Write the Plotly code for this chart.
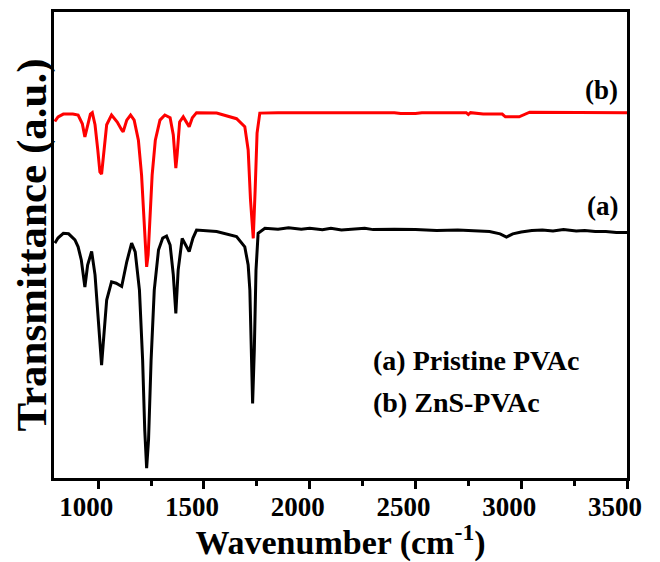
import plotly.graph_objects as go

wn_a = [795, 810, 835, 860, 890, 905, 920, 937, 950, 969, 985, 1000, 1010, 1016, 1025, 1040,
        1063, 1085, 1111, 1135, 1158, 1175, 1195, 1210, 1220, 1229, 1238, 1250, 1265, 1285,
        1305, 1323, 1340, 1355, 1367, 1378, 1397, 1415, 1430, 1448, 1465, 1560, 1654, 1693,
        1709, 1717, 1724, 1730, 1738, 1746, 1756, 1788, 1850, 1900, 1960, 2000, 2060, 2100,
        2150, 2200, 2260, 2300, 2400, 2500, 2600, 2700, 2780, 2850, 2900, 2930, 2960, 3000,
        3050, 3100, 3150, 3200, 3260, 3300, 3350, 3400, 3450, 3500]
t_a = [50.4, 51.5, 52.5, 52.4, 51.1, 49.6, 46.8, 41.0, 45.7, 48.6, 43.6, 33.9, 26.4, 24.2, 29.6, 38.2,
       42.1, 41.8, 41.1, 46.4, 50.4, 48.5, 40.3, 25.3, 10.3, 2.1, 8.2, 25.3, 40.3, 48.9,
       51.5, 51.9, 50.0, 43.6, 35.3, 44.6, 51.4, 50.0, 48.6, 51.5, 53.2, 52.9, 51.8, 49.6,
       45.7, 40.3, 25.3, 16.0, 27.5, 44.6, 52.5, 53.6, 53.4, 53.7, 53.4, 53.6, 53.3, 53.6,
       53.2, 53.4, 53.6, 53.3, 53.4, 53.3, 53.1, 53.2, 53.0, 52.9, 52.4, 51.7, 52.4, 52.8,
       53.1, 53.2, 53.0, 53.3, 53.0, 53.1, 52.9, 52.9, 52.7, 52.7]

wn_b = [795, 810, 835, 880, 905, 925, 937, 950, 963, 972, 985, 998, 1008, 1016, 1025, 1040,
        1063, 1090, 1111, 1118, 1135, 1153, 1170, 1190, 1205, 1215, 1222, 1229, 1236, 1244,
        1255, 1270, 1292, 1315, 1340, 1355, 1362, 1367, 1373, 1385, 1402, 1418, 1430, 1445,
        1465, 1560, 1654, 1693, 1709, 1720, 1733, 1742, 1751, 1764, 1850, 2060, 2400, 2430,
        2500, 2530, 2740, 2750, 2760, 2820, 2910, 2925, 2990, 3040, 3200, 3500]
t_b = [76.5, 77.5, 78.1, 78.1, 77.9, 76.0, 73.2, 75.8, 78.1, 78.4, 75.8, 70.4, 65.7, 65.2, 69.3, 75.8,
       77.9, 76.4, 74.7, 74.3, 76.8, 77.9, 76.8, 72.5, 65.0, 56.4, 48.9, 45.3, 47.9, 55.4,
       65.0, 72.5, 76.8, 77.9, 77.3, 73.6, 69.3, 66.5, 69.3, 76.4, 77.5, 76.4, 75.4, 77.3,
       78.4, 78.3, 77.1, 75.4, 70.4, 59.7, 51.4, 61.8, 74.0, 78.3, 78.4, 78.4, 78.4, 78.2,
       78.2, 78.4, 78.4, 78.0, 78.4, 78.1, 78.1, 77.5, 77.5, 78.5, 78.5, 78.4]

x_ticks = [1000, 1500, 2000, 2500, 3000, 3500]
x_minor = [1250, 1750, 2250, 2750, 3250]
legend_lines = ["(a) Pristine PVAc", "(b) ZnS-PVAc"]
curve_tags = ["(a)", "(b)"]

FONT = "Liberation Serif"

fig = go.Figure()
fig.add_trace(go.Scatter(x=wn_a, y=t_a, mode="lines",
                         line=dict(color="black", width=3), showlegend=False))
fig.add_trace(go.Scatter(x=wn_b, y=t_b, mode="lines",
                         line=dict(color="#ff0000", width=3), showlegend=False))

# curve tags
fig.add_annotation(x=3468, y=58.3, text="<b>" + curve_tags[0] + "</b>", showarrow=False,
                   xanchor="right", yanchor="middle", font=dict(family=FONT, size=27, color="black"))
fig.add_annotation(x=3468, y=83.3, text="<b>" + curve_tags[1] + "</b>", showarrow=False,
                   xanchor="right", yanchor="middle", font=dict(family=FONT, size=27, color="black"))
# legend texts
fig.add_annotation(x=2290, y=25.3, text="<b>" + legend_lines[0] + "</b>", showarrow=False,
                   xanchor="left", yanchor="middle", font=dict(family=FONT, size=28, color="black"))
fig.add_annotation(x=2290, y=16.1, text="<b>" + legend_lines[1] + "</b>", showarrow=False,
                   xanchor="left", yanchor="middle", font=dict(family=FONT, size=28, color="black"))

fig.update_layout(
    width=652, height=554,
    margin=dict(l=46, r=33, t=4, b=84),
    paper_bgcolor="white", plot_bgcolor="white",
    font=dict(family=FONT, color="black"),
    xaxis=dict(range=[791, 3500], showgrid=False, zeroline=False, automargin=False,
               showline=True, linecolor="black", linewidth=3, mirror=True,
               ticks="outside", ticklen=8, tickwidth=3, tickcolor="black",
               tickvals=x_ticks, ticktext=["<b>%d</b>" % v for v in x_ticks],
               ticklabelshift=-12, ticklabelstandoff=-5,
               tickfont=dict(family=FONT, size=27, color="black"),
               minor=dict(ticks="outside", ticklen=5, tickwidth=3, tickcolor="black",
                          tickvals=x_minor),
               title=dict(text="<b>Wavenumber (cm<sup>-1</sup>)</b>", standoff=6,
                          font=dict(family=FONT, size=34, color="black"))),
    yaxis=dict(range=[0, 100], showgrid=False, zeroline=False, automargin=False,
               showline=True, linecolor="black", linewidth=3, mirror=True,
               ticks="", showticklabels=False,
               title=dict(text="<b>Transmittance (a.u.)</b>", standoff=12,
                          font=dict(family=FONT, size=43, color="black"))),
)

fig.write_html("out.html")
